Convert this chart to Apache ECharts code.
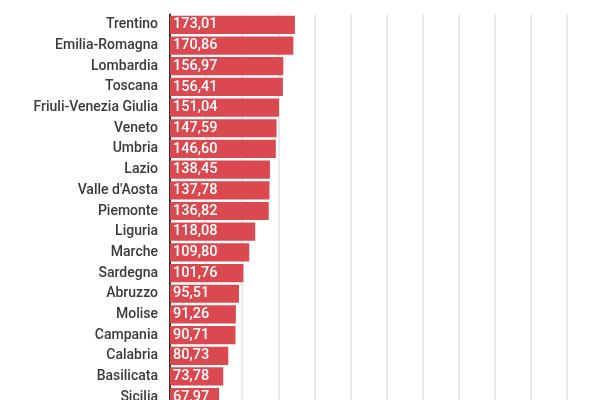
<!DOCTYPE html>
<html><head><meta charset="utf-8">
<script src="https://cdn.jsdelivr.net/npm/echarts@6/dist/echarts.min.js"></script>
<style>html,body{margin:0;padding:0;background:#fff}#c{width:600px;height:400px}</style>
</head><body><div id="c"></div>
<script>
var regions = ["Trentino","Emilia-Romagna","Lombardia","Toscana","Friuli-Venezia Giulia","Veneto","Umbria","Lazio","Valle d'Aosta","Piemonte","Liguria","Marche","Sardegna","Abruzzo","Molise","Campania","Calabria","Basilicata","Sicilia"];
var values = [173.01,170.86,156.97,156.41,151.04,147.59,146.60,138.45,137.78,136.82,118.08,109.80,101.76,95.51,91.26,90.71,80.73,73.78,67.97];
var xTicks = {min:0, max:550, interval:50};

var chart = echarts.init(document.getElementById('c'), null, {renderer:'canvas'});
chart.setOption({
  animation:false,
  grid:{left:170, top:14.5, width:397, height:393, containLabel:false, outerBoundsMode:'none'},
  xAxis:{type:'value', min:xTicks.min, max:xTicks.max, interval:xTicks.interval,
    axisLabel:{show:false}, axisLine:{show:false}, axisTick:{show:false},
    splitLine:{show:true, lineStyle:{color:'#e3e3e3', width:1.5}}},
  yAxis:{type:'category', inverse:true, data:regions,
    axisLine:{show:true, lineStyle:{color:'#333', width:2}},
    axisTick:{show:false},
    axisLabel:{color:'#3a3a3a', fontFamily:'Roboto', fontWeight:500, fontSize:14, margin:12}},
  series:[{type:'bar', data:values, barCategoryGap:'12%',
    itemStyle:{color:'#db4950'},
    label:{show:true, position:'insideLeft', offset:[-2,0], color:'#fff', fontFamily:'Roboto', fontWeight:500, fontSize:14.5,
      formatter:function(p){return p.value.toFixed(2).replace('.',',');}}}]
});
</script></body></html>
